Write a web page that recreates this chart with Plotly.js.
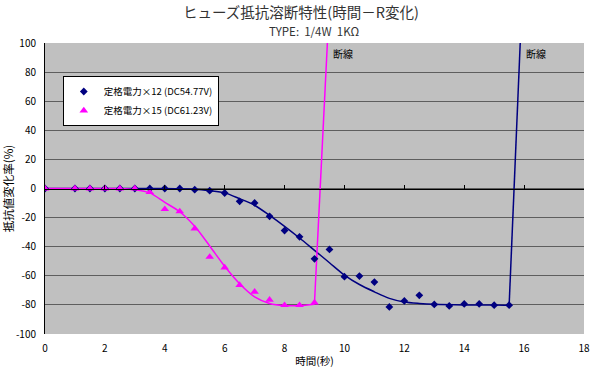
<!DOCTYPE html>
<html>
<head>
<meta charset="utf-8">
<script src="https://cdn.plot.ly/plotly-3.0.1.min.js"></script>
<style>html,body{margin:0;padding:0;background:#fff}#chart{width:590px;height:372px}</style>
</head>
<body>
<div id="chart"></div>
<script>
// ---- data ----
const seriesNames = ['定格電力×12 (DC54.77V)', '定格電力×15 (DC61.23V)'];

// 定格電力×12 measured points
const blueX = [0, 1, 1.5, 2, 2.5, 3, 3.5, 4, 4.5, 5, 5.5, 6, 6.5, 7, 7.5, 8, 8.5, 9, 9.5, 10, 10.5, 11, 11.5, 12, 12.5, 13, 13.5, 14, 14.5, 15, 15.5];
const blueY = [0, 0, 0, 0, 0, 0, 0, 0, 0, -0.8, -1.5, -3.1, -8.8, -9.9, -19.1, -28.9, -33.2, -48.3, -41.9, -60.6, -60.2, -64.3, -81.4, -77.3, -73.4, -79.7, -80.7, -79.3, -79.3, -80.2, -80.2];
// smooth curve drawn through them
const blueCurveX = [0, 1, 2, 3, 4, 5, 5.5, 6, 6.5, 7, 7.5, 8, 8.5, 9, 9.5, 10, 10.5, 11, 11.5, 12, 12.5, 13, 14, 15, 15.5];
const blueCurveY = [0, 0, 0, 0, 0, -0.5, -1.5, -3, -7, -11.5, -18.5, -26, -34, -42.5, -51, -59.5, -66, -71, -75.5, -78, -79, -79.6, -80, -80, -80.2];
// break (断線) line
const blueBreakX = [15.5, 15.87];
const blueBreakY = [-80.2, 100];

// 定格電力×15 measured points
const pinkX = [0, 1, 1.5, 2, 2.5, 3, 3.5, 4, 4.5, 5, 5.5, 6, 6.5, 7, 7.5, 8, 8.5, 9];
const pinkY = [0, 0, 0, 0, 0, 0, -2.5, -14.2, -15.8, -27.5, -47, -54.3, -66.4, -71, -76.5, -80.2, -80.2, -78.4];
const pinkCurveX = [0, 1, 2, 2.5, 3, 3.5, 4, 4.5, 5, 5.5, 6, 6.5, 7, 7.5, 8, 8.5, 9];
const pinkCurveY = [0, 0, 0, 0, -0.8, -3, -9.5, -16, -26, -39.5, -53.5, -65.5, -74.5, -79, -80.5, -80.5, -79.5];
const pinkBreakX = [9.0, 9.43];
const pinkBreakY = [-78.4, 100];

const breakLabel = '断線';
const xTicks = [0, 2, 4, 6, 8, 10, 12, 14, 16, 18];
const yTicks = [-100, -80, -60, -40, -20, 0, 20, 40, 60, 80, 100];

// ---- styling ----
const NAVY = '#000080';
const PINK = '#ff00ff';
const FONT = '"Noto Sans CJK JP", "Liberation Sans", sans-serif';

const traces = [
  {x: blueCurveX, y: blueCurveY, mode: 'lines', line: {color: NAVY, width: 1.5, shape: 'spline', smoothing: 0.8}, showlegend: false, hoverinfo: 'skip'},
  {x: blueBreakX, y: blueBreakY, mode: 'lines', line: {color: NAVY, width: 1.5}, showlegend: false, hoverinfo: 'skip'},
  {x: pinkCurveX, y: pinkCurveY, mode: 'lines', line: {color: PINK, width: 1.5, shape: 'spline', smoothing: 0.8}, showlegend: false, hoverinfo: 'skip'},
  {x: pinkBreakX, y: pinkBreakY, mode: 'lines', line: {color: PINK, width: 1.5}, showlegend: false, hoverinfo: 'skip'},
  {x: blueX, y: blueY, mode: 'markers', name: seriesNames[0], marker: {symbol: 'diamond', size: 6, color: NAVY}},
  {x: pinkX, y: pinkY, mode: 'markers', name: seriesNames[1], marker: {symbol: 'triangle-up', size: 7.5, color: PINK}},
  // carrier for the axis drawn through y = 0
  {x: [null], y: [null], xaxis: 'x2', yaxis: 'y', mode: 'markers', showlegend: false, hoverinfo: 'skip'}
];

const layout = {
  width: 590, height: 372,
  margin: {l: 45, r: 6, t: 43, b: 38},
  paper_bgcolor: '#ffffff',
  plot_bgcolor: '#c0c0c0',
  font: {family: FONT, size: 10, color: '#000'},
  title: {
    text: 'ヒューズ抵抗溶断特性(時間－R変化)',
    font: {family: FONT, size: 14.5, color: '#333'},
    xref: 'container', x: 301 / 590, xanchor: 'center',
    yref: 'container', y: 1 - 13 / 372, yanchor: 'middle'
  },
  annotations: [
    {text: 'TYPE:  1/4W  1KΩ', xref: 'paper', yref: 'paper', x: 0.5, y: (334 - 31) / 291,
     xanchor: 'center', yanchor: 'middle', showarrow: false, font: {family: FONT, size: 11.5, color: '#333'}},
    {text: breakLabel, xref: 'x', yref: 'y', x: pinkBreakX[1] + 0.12, y: 93, xanchor: 'left', yanchor: 'middle',
     showarrow: false, font: {family: FONT, size: 10, color: '#000'}},
    {text: breakLabel, xref: 'x', yref: 'y', x: blueBreakX[1] + 0.12, y: 93, xanchor: 'left', yanchor: 'middle',
     showarrow: false, font: {family: FONT, size: 10, color: '#000'}}
  ],
  xaxis: {
    range: [0, 18], tickvals: xTicks, ticktext: xTicks.map(String),
    showgrid: false, zeroline: false, showline: false, ticks: '',
    ticklabelstandoff: 7,
    tickfont: {family: FONT, size: 10, color: '#000'},
    title: {text: '時間(秒)', font: {family: FONT, size: 10.5, color: '#000'}, standoff: 3},
    fixedrange: true
  },
  xaxis2: {
    overlaying: 'x', matches: 'x', anchor: 'free', position: 0.5, side: 'bottom',
    range: [0, 18], tickvals: xTicks, showticklabels: false,
    ticks: 'inside', ticklen: 4, tickcolor: '#000', tickwidth: 1,
    showline: true, linecolor: '#000', linewidth: 1, showgrid: false, zeroline: false
  },
  yaxis: {
    range: [-100, 100], tickvals: yTicks, ticktext: yTicks.map(String),
    showgrid: true, gridcolor: '#5e5e5e', gridwidth: 1,
    zeroline: false, showline: true, linecolor: '#000', linewidth: 1,
    ticks: '', ticklabelstandoff: 6,
    tickfont: {family: FONT, size: 10, color: '#000'},
    title: {text: '抵抗値変化率(%)', font: {family: FONT, size: 11.5, color: '#000'}, standoff: 5},
    fixedrange: true
  },
  legend: {
    x: 0.033, y: (334 - 76) / 291, xanchor: 'left', yanchor: 'top',
    bgcolor: '#ffffff', bordercolor: '#000', borderwidth: 1,
    font: {family: FONT, size: 9.5, color: '#000'},
    tracegroupgap: 0, itemwidth: 30
  },
  showlegend: true
};
Plotly.newPlot('chart', traces, layout, {displayModeBar: false, staticPlot: true});
</script>
</body>
</html>
